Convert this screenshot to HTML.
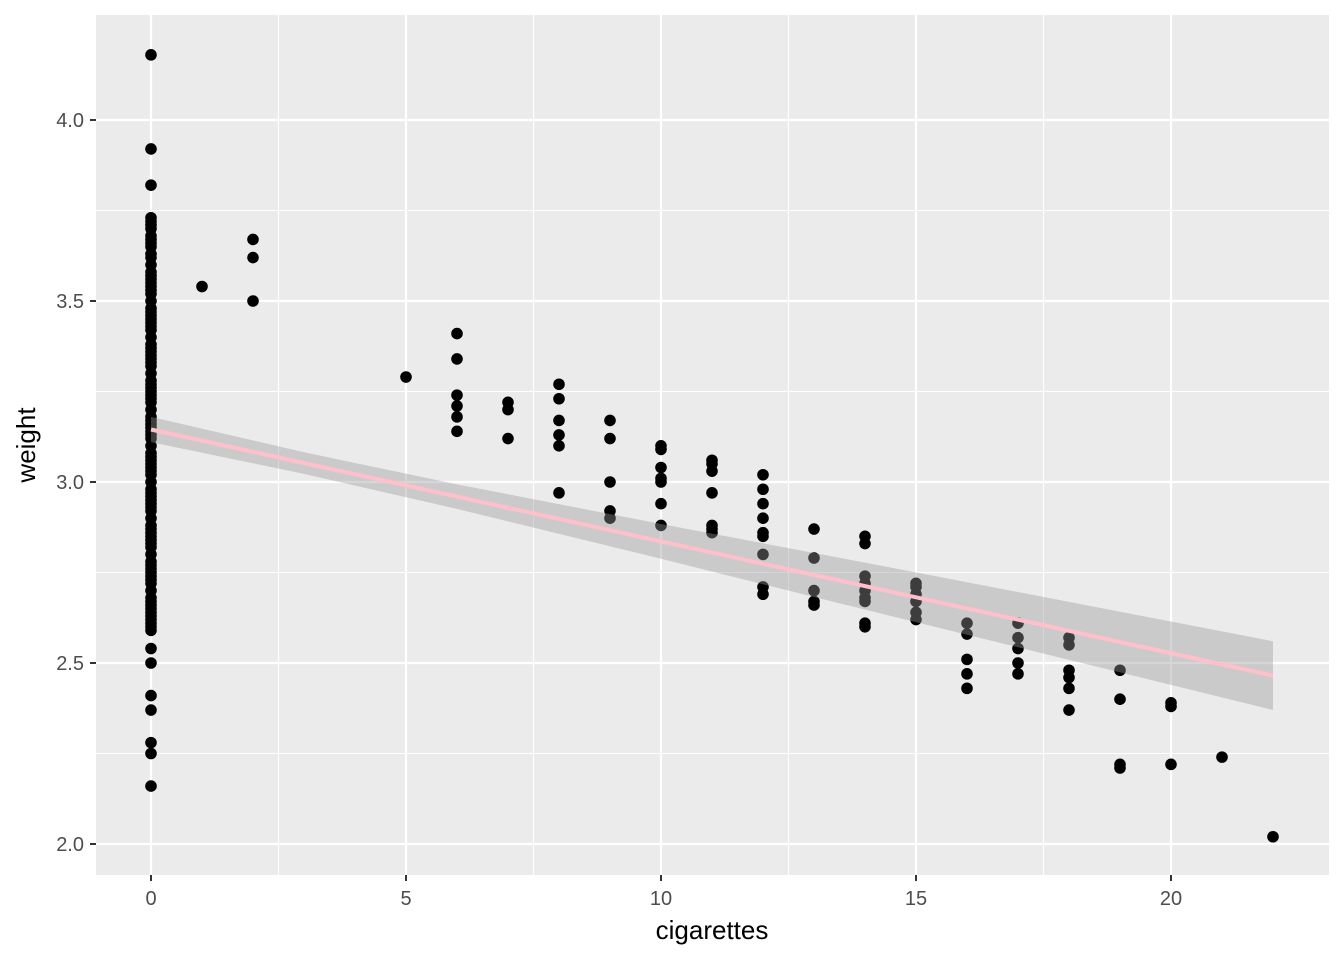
<!DOCTYPE html>
<html><head><meta charset="utf-8"><style>
body{margin:0;background:#fff;}
svg{display:block;font-family:"Liberation Sans",Arial,sans-serif;}
</style></head><body>
<svg id="chart" width="1344" height="960" xmlns="http://www.w3.org/2000/svg">
<rect x="96" y="15" width="1233" height="860" fill="#ebebeb"/>
<g id="grid"></g><g id="points"></g><g id="band"></g><g id="fit"></g><g id="axes"></g>
<text x="712" y="939" text-anchor="middle" font-size="26" fill="#000">cigarettes</text>
<text x="0" y="0" transform="translate(35,445) rotate(-90)" text-anchor="middle" font-size="26" fill="#000">weight</text>
</svg>
<script>
const xTicks=[0,5,10,15,20];
const yTicks=[2.0,2.5,3.0,3.5,4.0];
const xMinor=[2.5,7.5,12.5,17.5];
const yMinor=[2.25,2.75,3.25,3.75];
const zeroWeights=[4.18,3.92,3.82,3.73,3.72,3.70,3.68,3.66,3.62,3.60,3.58,3.56,3.54,3.52,3.50,3.48,3.46,3.44,3.42,3.40,3.38,3.36,3.34,3.32,3.30,3.28,3.26,3.24,3.22,3.20,3.18,3.16,3.14,3.12,3.10,3.08,3.06,3.04,3.02,3.00,2.98,2.96,2.94,2.92,2.90,2.88,2.86,2.84,2.82,2.80,2.78,2.76,2.74,2.72,2.70,2.68,2.66,2.64,2.62,2.60,2.59,2.54,2.50,2.41,2.37,2.28,2.25,2.16,3.71,3.67,3.63,3.57,3.53,3.47,3.43,3.37,3.33,3.27,3.23,3.17,3.13,3.07,3.03,2.97,2.93,2.87,2.83,2.77,2.73,2.67,2.63,3.65,3.55,3.45,3.35,3.25,3.15,3.05,2.95,2.85,2.75,2.65,2.61];
const otherCigs=[1,2,2,2,5,6,6,6,6,6,6,7,7,7,8,8,8,8,8,8,9,9,9,9,9,10,10,10,10,10,10,10,11,11,11,11,11,11,11,12,12,12,12,12,12,12,12,12,13,13,13,13,13,14,14,14,14,14,14,14,14,14,15,15,15,15,15,15,16,16,16,16,16,17,17,17,17,17,18,18,18,18,18,18,19,19,19,19,20,20,20,21,22];
const otherWeights=[3.54,3.67,3.62,3.50,3.29,3.41,3.34,3.24,3.21,3.18,3.14,3.22,3.20,3.12,3.27,3.23,3.17,3.13,3.10,2.97,3.17,3.12,3.00,2.92,2.90,3.10,3.09,3.04,3.01,3.00,2.94,2.88,3.06,3.05,3.03,2.97,2.88,2.87,2.86,3.02,2.98,2.94,2.90,2.86,2.85,2.80,2.71,2.69,2.87,2.79,2.70,2.67,2.66,2.85,2.83,2.74,2.72,2.70,2.68,2.67,2.61,2.60,2.72,2.71,2.69,2.67,2.64,2.62,2.61,2.58,2.51,2.47,2.43,2.61,2.57,2.54,2.50,2.47,2.57,2.55,2.48,2.46,2.43,2.37,2.48,2.40,2.22,2.21,2.39,2.38,2.22,2.24,2.02];
const fitIntercept=3.145;
const fitSlope=-0.0309;
const bandX=[0,3,6,10,14,18,22];
const bandHalf=[0.035,0.03,0.034,0.048,0.065,0.08,0.095];

const X=v=>151+v*51, Y=v=>120+(4.0-v)*362;
const NS="http://www.w3.org/2000/svg";
function mk(tag,parent,attrs){const e=document.createElementNS(NS,tag);for(const k in attrs)e.setAttribute(k,attrs[k]);document.getElementById(parent).appendChild(e);return e;}
xMinor.forEach(v=>{const l=mk('line','grid',{x1:X(v),x2:X(v),y1:15,y2:875,stroke:'#fff','stroke-width':1.1});

});
yMinor.forEach(v=>{const l=mk('line','grid',{x1:96,x2:1329,y1:Y(v),y2:Y(v),stroke:'#fff','stroke-width':1.1});

});
xTicks.forEach(v=>{const l=mk('line','grid',{x1:X(v),x2:X(v),y1:15,y2:875,stroke:'#fff','stroke-width':2.2});


const t=mk('line','axes',{x1:X(v),x2:X(v),y1:875,y2:881,stroke:'#333','stroke-width':2});


const tx=mk('text','axes',{x:X(v),y:905,'text-anchor':'middle','font-size':20,fill:'#4d4d4d'});tx.textContent=v;

});
yTicks.forEach(v=>{const l=mk('line','grid',{x1:96,x2:1329,y1:Y(v),y2:Y(v),stroke:'#fff','stroke-width':2.2});


const t=mk('line','axes',{x1:90,x2:96,y1:Y(v),y2:Y(v),stroke:'#333','stroke-width':2});


const tx=mk('text','axes',{x:84,y:Y(v)+7,'text-anchor':'end','font-size':20,fill:'#4d4d4d'});tx.textContent=v.toFixed(1);

});
zeroWeights.forEach(w=>{const c=mk('circle','points',{cx:X(0),cy:Y(w),r:5.8,fill:'#000'});

});
otherCigs.forEach((g,i)=>{const c=mk('circle','points',{cx:X(g),cy:Y(otherWeights[i]),r:5.8,fill:'#000'});

});
const f=x=>fitIntercept+fitSlope*x;
let up=bandX.map((x,i)=>X(x)+','+Y(f(x)+bandHalf[i]));
let lo=bandX.map((x,i)=>X(x)+','+Y(f(x)-bandHalf[i])).reverse();
const b=mk('polygon','band',{points:up.concat(lo).join(' '),fill:'#999','fill-opacity':0.4});


const fl=mk('line','fit',{x1:X(0),y1:Y(f(0)),x2:X(22),y2:Y(f(22)),stroke:'#ffc0cb','stroke-width':4});


</script>
</body></html>
